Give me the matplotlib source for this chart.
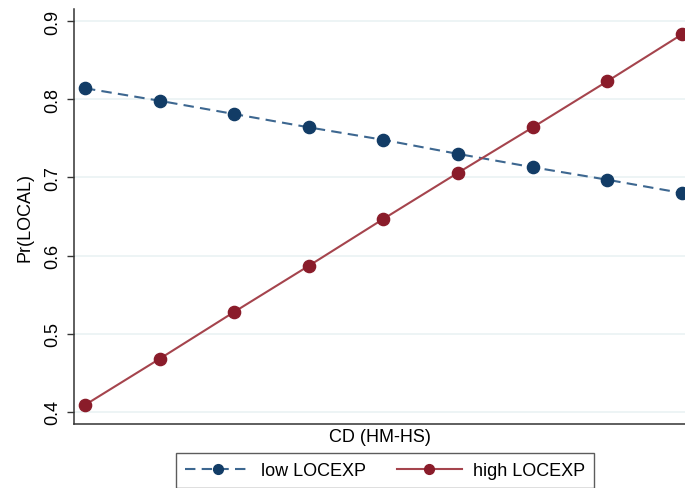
import matplotlib
matplotlib.use("Agg")
import matplotlib.pyplot as plt
import numpy as np

plt.rcParams['font.family'] = ['Liberation Sans', 'DejaVu Sans']

# CD (HM-HS) steps, no tick labels on the x axis
cd = np.arange(9)
low_locexp = [0.814, 0.798, 0.781, 0.764, 0.748, 0.730, 0.713, 0.697, 0.680]
high_locexp = [0.409, 0.468, 0.528, 0.587, 0.647, 0.706, 0.764, 0.823, 0.883]
yticks = [0.4, 0.5, 0.6, 0.7, 0.8, 0.9]

navy = '#123c66'
navy_line = '#3d6790'
maroon = '#8a1c2a'
maroon_line = '#a5444d'

fig = plt.figure(figsize=(6.85, 4.89), dpi=100)
ax = fig.add_axes([74/685, 1 - 425/489, 1 - 74/685, (425 - 10)/489])

ax.plot(cd, low_locexp, color=navy_line, ls=(0, (5, 3)), lw=1.5, marker='o', ms=8.8,
        mfc=navy, mec=navy, label='low LOCEXP', clip_on=False)
ax.plot(cd, high_locexp, color=maroon_line, ls='-', lw=1.5, marker='o', ms=8.8,
        mfc=maroon, mec=maroon, label='high LOCEXP', clip_on=False)

ax.set_xlim(-0.147, 8.04)
ax.set_ylim(0.9 - (425 - 22) / 782, 0.9 + 12 / 782)
ax.set_yticks(yticks)
ax.set_yticklabels([f'{v:.1f}' for v in yticks], rotation=90, va='center', fontsize=13)
ax.set_xticks([])
ax.grid(axis='y', color='#eaf2f3', lw=1.2)
ax.set_axisbelow(True)
for s in ['top', 'right']:
    ax.spines[s].set_visible(False)
for s in ['left', 'bottom']:
    ax.spines[s].set_color('#333333')
    ax.spines[s].set_linewidth(1.1)
ax.tick_params(axis='y', direction='out', length=5, width=1, color='#333333', pad=4)

ax.set_ylabel('Pr(LOCAL)', fontsize=13, labelpad=8)
ax.set_xlabel('CD (HM-HS)', fontsize=13, labelpad=3)

leg = fig.legend(loc='lower center', bbox_to_anchor=(385/685, -0.012), ncol=2, fontsize=13,
                 frameon=True, fancybox=False, edgecolor='#333333', handlelength=3.6,
                 columnspacing=1.7, borderpad=0.5, borderaxespad=0.3, handletextpad=0.6,
                 markerscale=0.8)
leg.get_frame().set_linewidth(1.0)

fig.savefig('out.png', dpi=100)
